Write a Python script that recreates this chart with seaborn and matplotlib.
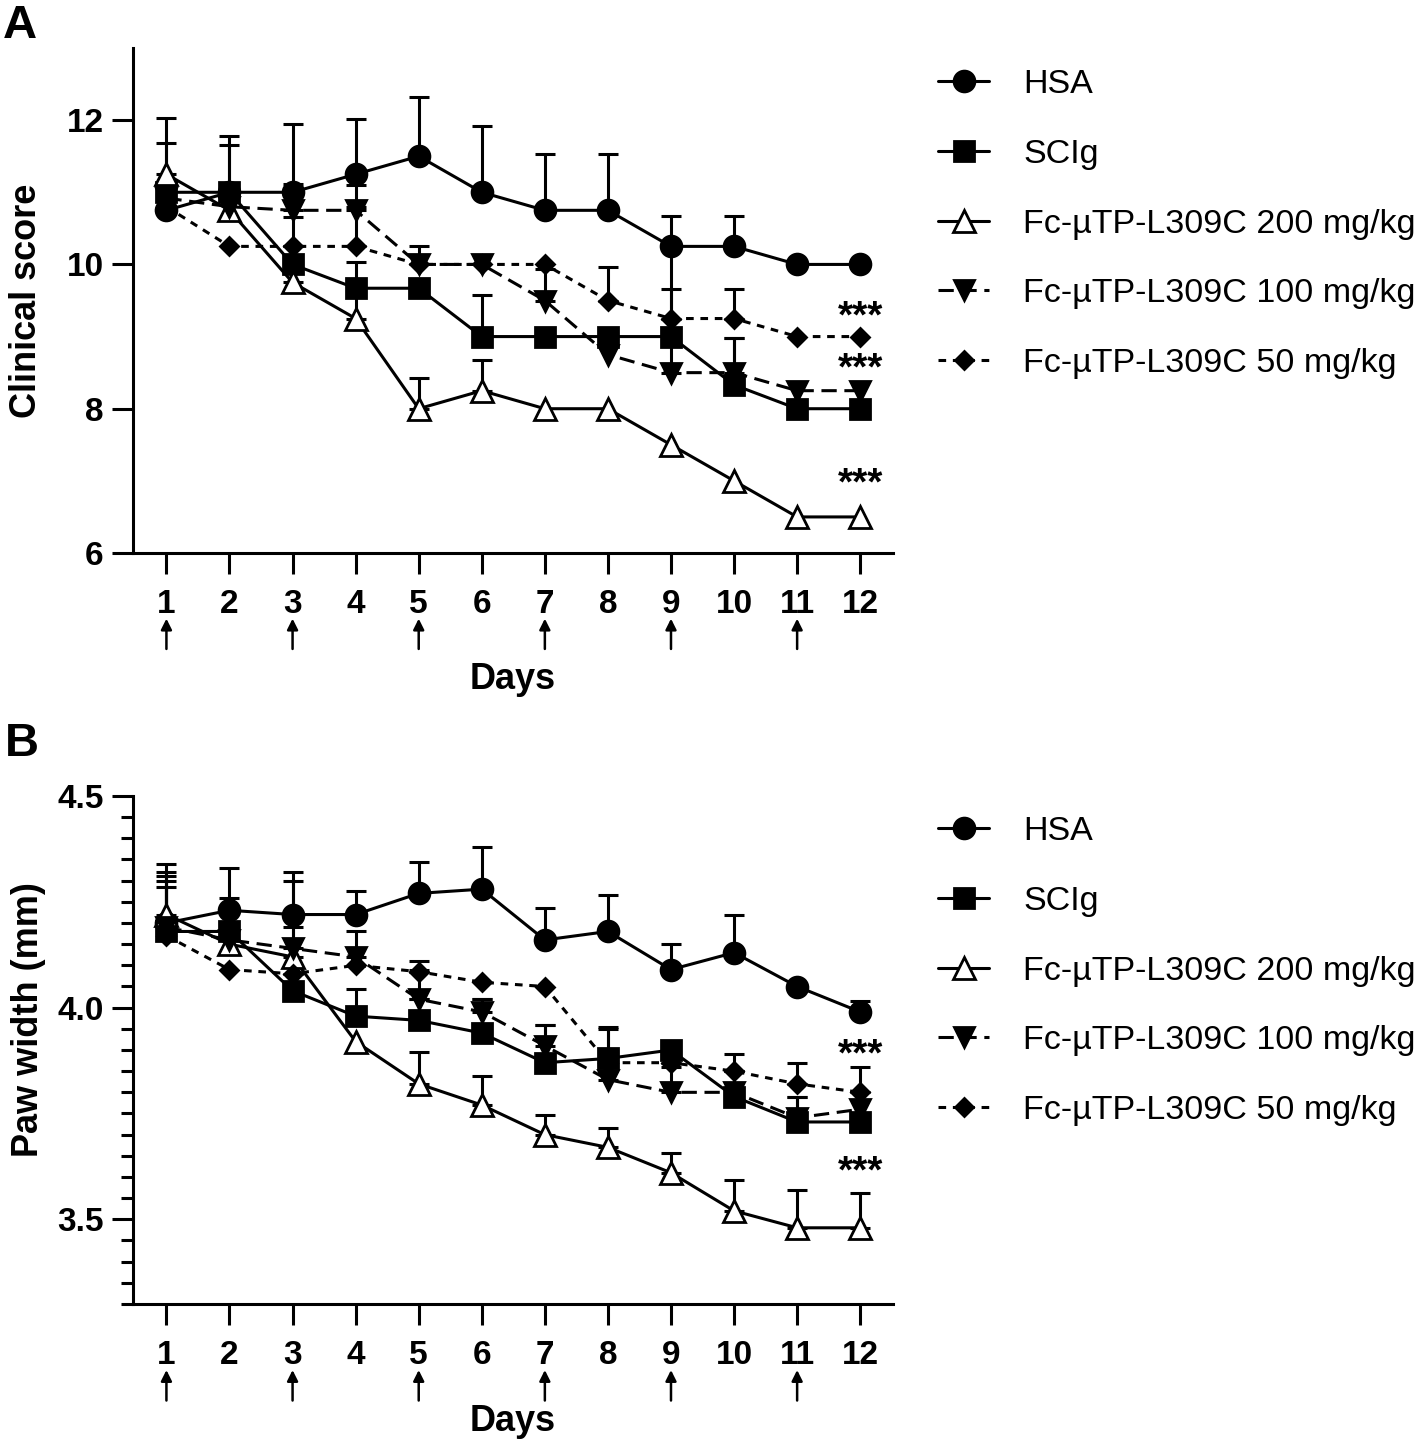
import matplotlib
matplotlib.use("Agg")
import matplotlib.pyplot as plt
from matplotlib.ticker import MultipleLocator
import seaborn as sns
import numpy as np

# ---------------- data ----------------
days = np.arange(1, 13)
injection_days = [1, 3, 5, 7, 9, 11]

groups = ["HSA", "SCIg", "Fc-µTP-L309C 200 mg/kg",
          "Fc-µTP-L309C 100 mg/kg", "Fc-µTP-L309C 50 mg/kg"]

# A: clinical score (mean, upper SEM)
score_hsa = [10.75, 11.0, 11.0, 11.25, 11.5, 11.0, 10.75, 10.75, 10.25, 10.25, 10.0, 10.0]
score_hsa_err = [1.28, 0.78, 0.94, 0.76, 0.82, 0.92, 0.78, 0.78, 0.42, 0.42, 0.0, 0.0]
score_scig = [11.0, 11.0, 10.0, 9.67, 9.67, 9.0, 9.0, 9.0, 9.0, 8.33, 8.0, 8.0]
score_scig_err = [0.0, 0.66, 0.25, 0.36, 0.0, 0.58, 0.0, 0.0, 1.25, 0.65, 0.0, 0.0]
score_200 = [11.25, 10.75, 9.75, 9.25, 8.0, 8.25, 8.0, 8.0, 7.5, 7.0, 6.5, 6.5]
score_200_err = [0.43, 0.0, 0.3, 0.45, 0.42, 0.43, 0.0, 0.0, 0.0, 0.0, 0.0, 0.0]
score_100 = [10.92, 10.8, 10.75, 10.75, 10.0, 10.0, 9.5, 8.75, 8.5, 8.5, 8.25, 8.25]
score_100_err = [0.0, 0.0, 0.37, 0.35, 0.26, 0.0, 0.44, 0.0, 0.5, 0.48, 0.0, 0.0]
score_50 = [10.8, 10.25, 10.25, 10.25, 10.0, 10.0, 10.0, 9.5, 9.25, 9.25, 9.0, 9.0]
score_50_err = [0.0, 0.0, 0.41, 0.55, 0.0, 0.0, 0.0, 0.46, 0.41, 0.41, 0.0, 0.0]

# B: paw width in mm (mean, upper SEM)
paw_hsa = [4.20, 4.23, 4.22, 4.22, 4.27, 4.28, 4.16, 4.18, 4.09, 4.13, 4.05, 3.99]
paw_hsa_err = [0.14, 0.10, 0.10, 0.055, 0.075, 0.10, 0.075, 0.085, 0.06, 0.09, 0.0, 0.025]
paw_scig = [4.18, 4.18, 4.04, 3.98, 3.97, 3.94, 3.87, 3.88, 3.90, 3.79, 3.73, 3.73]
paw_scig_err = [0.12, 0.08, 0.04, 0.063, 0.05, 0.08, 0.09, 0.075, 0.0, 0.0, 0.06, 0.0]
paw_200 = [4.22, 4.15, 4.12, 3.92, 3.82, 3.77, 3.70, 3.67, 3.61, 3.52, 3.48, 3.48]
paw_200_err = [0.10, 0.0, 0.18, 0.0, 0.075, 0.068, 0.047, 0.045, 0.047, 0.072, 0.09, 0.083]
paw_100 = [4.19, 4.16, 4.14, 4.12, 4.02, 3.99, 3.91, 3.83, 3.80, 3.80, 3.74, 3.76]
paw_100_err = [0.12, 0.08, 0.05, 0.06, 0.07, 0.03, 0.05, 0.02, 0.06, 0.05, 0.05, 0.0]
paw_50 = [4.17, 4.09, 4.08, 4.10, 4.085, 4.06, 4.05, 3.87, 3.87, 3.85, 3.82, 3.80]
paw_50_err = [0.115, 0.0, 0.0, 0.0, 0.025, 0.0, 0.0, 0.08, 0.02, 0.04, 0.05, 0.06]

# significance marks near day 12
stars_A = [9.13, 8.41, 6.81]
stars_B = [3.863, 3.586]

# ---------------- style ----------------
sns.set_style("ticks")
plt.rcParams['font.family'] = ['Liberation Sans', 'DejaVu Sans']
for key in ['text.color', 'axes.labelcolor', 'xtick.color', 'ytick.color', 'axes.edgecolor']:
    plt.rcParams[key] = 'black'

styles = [
    dict(marker='o', markersize=15, markerfacecolor='black', linestyle='-'),
    dict(marker='s', markersize=14, markerfacecolor='black', linestyle='-'),
    dict(marker='^', markersize=16, markerfacecolor='white', linestyle='-'),
    dict(marker='v', markersize=14, markerfacecolor='black', linestyle=(0, (5, 2.5))),
    dict(marker='D', markersize=9.5, markerfacecolor='black', linestyle=(0, (2.5, 2.2))),
]

LW = 2.2


def draw_panel(ax, means, errs, ylabel):
    for i, (m, e, name) in enumerate(zip(means, errs, groups)):
        m = np.asarray(m)
        e = np.asarray(e)
        keep = e > 0
        ax.errorbar(days[keep], m[keep], yerr=[np.zeros(keep.sum()), e[keep]],
                    fmt='none', ecolor='black', elinewidth=LW, capsize=7,
                    capthick=LW, zorder=1.5)
        sns.lineplot(x=days, y=m, ax=ax, color='black', linewidth=LW,
                     markeredgecolor='black', markeredgewidth=2,
                     label=name, errorbar=None, zorder=2 + i * 0.1, **styles[i])
    sns.despine(ax=ax)
    for sp in ['left', 'bottom']:
        ax.spines[sp].set_linewidth(LW)
    ax.set_xlim(0.47, 12.52)
    ax.set_xticks(days)
    ax.tick_params(axis='both', which='major', length=15, width=LW,
                   labelsize=24, pad=6)
    ax.tick_params(axis='x', which='major', length=15, pad=11)
    for lab in ax.get_xticklabels() + ax.get_yticklabels():
        lab.set_fontweight('bold')
    ax.set_ylabel(ylabel, fontsize=26, fontweight='bold')
    ax.set_xlabel("Days", fontsize=26, fontweight='bold')
    ax.yaxis.set_label_coords(-0.117, 0.5)
    # injection arrows
    for d in injection_days:
        ax.annotate('', xy=(d, -0.13), xytext=(d, -0.19),
                    xycoords=ax.get_xaxis_transform(),
                    textcoords=ax.get_xaxis_transform(),
                    arrowprops=dict(arrowstyle='-|>', color='black', lw=1.8,
                                    mutation_scale=16, shrinkA=0, shrinkB=0),
                    annotation_clip=False)
    leg = ax.legend(loc='upper left', frameon=False, fontsize=24.5,
                    handlelength=1.5, handletextpad=1.0, labelspacing=1.14,
                    borderpad=0, borderaxespad=0)
    return leg


fig = plt.figure(figsize=(14.18, 14.44), dpi=100)
axA = fig.add_axes([133 / 1418, 1 - 553 / 1444, 760 / 1418, 505 / 1444])
axB = fig.add_axes([133 / 1418, 1 - 1304 / 1444, 760 / 1418, 508 / 1444])

legA = draw_panel(axA, [score_hsa, score_scig, score_200, score_100, score_50],
                  [score_hsa_err, score_scig_err, score_200_err, score_100_err, score_50_err],
                  "Clinical score")
axA.set_ylim(6, 13)
axA.set_yticks([6, 8, 10, 12])
axA.xaxis.set_label_coords(0.5, -0.215)
legA.set_bbox_to_anchor((938 / 1418, 1 - 69 / 1444), transform=fig.transFigure)

legB = draw_panel(axB, [paw_hsa, paw_scig, paw_200, paw_100, paw_50],
                  [paw_hsa_err, paw_scig_err, paw_200_err, paw_100_err, paw_50_err],
                  "Paw width (mm)")
axB.set_ylim(3.3, 4.5)
axB.set_yticks([3.5, 4.0, 4.5])
axB.set_yticklabels(['3.5', '4.0', '4.5'], fontweight='bold')
axB.yaxis.set_minor_locator(MultipleLocator(0.05))
axB.tick_params(axis='y', which='minor', length=9, width=LW)
axB.yaxis.set_label_coords(-0.115, 0.56)
axB.xaxis.set_label_coords(0.5, -0.197)
legB.set_bbox_to_anchor((938 / 1418, 1 - 816 / 1444), transform=fig.transFigure)

for y in stars_A:
    axA.text(12, y, '***', ha='center', va='baseline', fontsize=28, fontweight='bold')
for y in stars_B:
    axB.text(12, y, '***', ha='center', va='baseline', fontsize=28, fontweight='bold')

fig.text(3 / 1418, 1 - 38 / 1444, 'A', fontsize=34, fontweight='bold', va='baseline')
fig.text(5 / 1418, 1 - 756 / 1444, 'B', fontsize=34, fontweight='bold', va='baseline')

fig.savefig("out.png", dpi=100)
